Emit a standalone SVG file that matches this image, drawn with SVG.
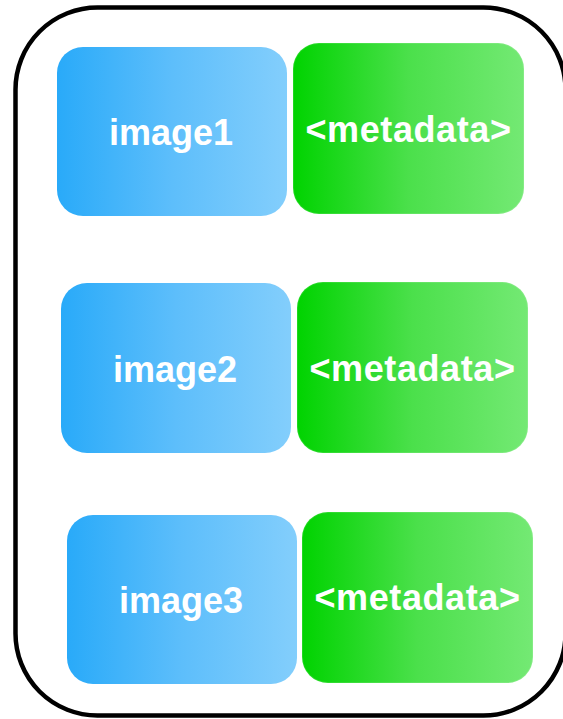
<svg xmlns="http://www.w3.org/2000/svg" width="563" height="719" viewBox="0 0 563 719">
  <defs>
    <linearGradient id="blueFill" x1="0" y1="0" x2="1" y2="0">
      <stop offset="0" stop-color="#29aaf9"/>
      <stop offset="0.5" stop-color="#5dbefb"/>
      <stop offset="1" stop-color="#83cefc"/>
    </linearGradient>
    <linearGradient id="greenFill" x1="0" y1="0" x2="1" y2="0">
      <stop offset="0" stop-color="#00d300"/>
      <stop offset="0.5" stop-color="#4be04b"/>
      <stop offset="1" stop-color="#74e974"/>
    </linearGradient>
    <style>
      .frame { fill: #ffffff; stroke: #000000; stroke-width: 4.5; }
      .img { fill: url(#blueFill); }
      .meta { fill: url(#greenFill); stroke: #ffffff; stroke-opacity: 0.12; stroke-width: 2; }
      .label { font-family: "Liberation Sans", Arial, sans-serif; font-weight: bold; font-size: 36px; fill: #ffffff; text-anchor: middle; }
      .wide { letter-spacing: 0.6px; }
    </style>
  </defs>

  <rect width="563" height="719" fill="#ffffff"/>

  <!-- outer container -->
  <rect id="container" class="frame" x="15.5" y="7.5" width="550" height="708" rx="82" ry="82"/>

  <g id="image1">
    <rect class="img" x="57" y="47" width="230" height="169" rx="26"/>
    <text class="label" x="171" y="145">image1</text>
  </g>
  <g id="metadata1">
    <rect class="meta" x="293" y="43" width="231" height="171" rx="26"/>
    <text class="label wide" x="408.5" y="142">&lt;metadata&gt;</text>
  </g>

  <g id="image2">
    <rect class="img" x="61" y="283" width="230" height="170" rx="26"/>
    <text class="label" x="175" y="382">image2</text>
  </g>
  <g id="metadata2">
    <rect class="meta" x="297" y="282" width="231" height="171" rx="26"/>
    <text class="label wide" x="412.5" y="381">&lt;metadata&gt;</text>
  </g>

  <g id="image3">
    <rect class="img" x="67" y="515" width="230" height="169" rx="26"/>
    <text class="label" x="181" y="613">image3</text>
  </g>
  <g id="metadata3">
    <rect class="meta" x="302" y="512" width="231" height="171" rx="26"/>
    <text class="label wide" x="417.5" y="610">&lt;metadata&gt;</text>
  </g>

  <g id="connectors"/>
</svg>
